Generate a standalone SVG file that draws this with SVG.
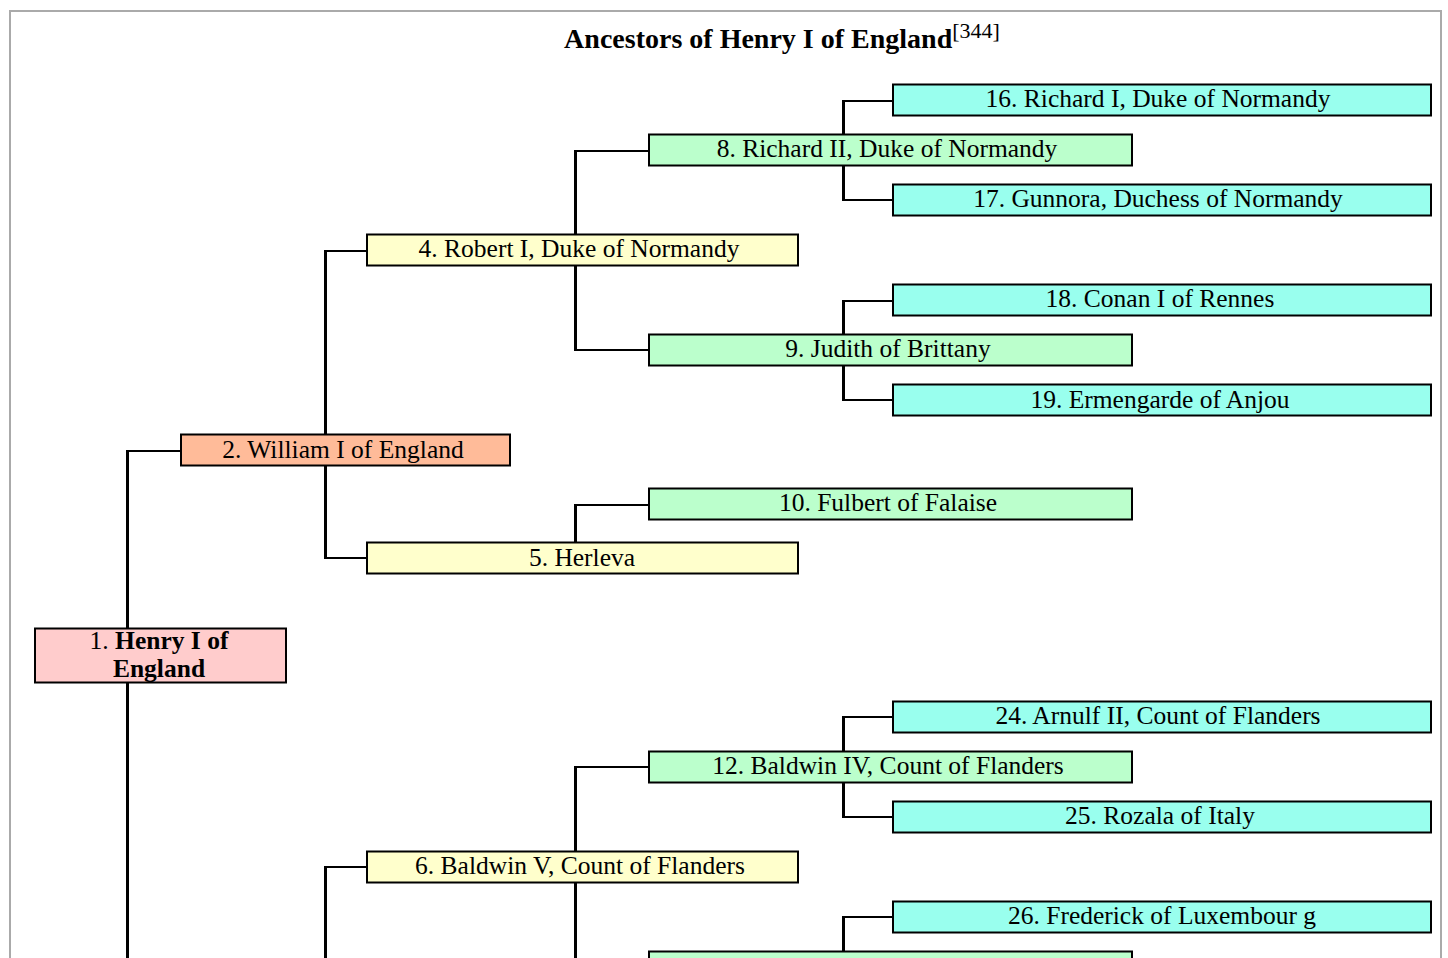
<svg xmlns="http://www.w3.org/2000/svg" width="1448" height="958" viewBox="0 0 1448 958">
<style>
text{font-family:"Liberation Serif","Times New Roman",serif;font-size:25.5px;fill:#000;text-anchor:middle}
.b{stroke:#000;stroke-width:2}
.l1{fill:#fcc}.l2{fill:#fb9}.l3{fill:#ffc}.l4{fill:#bfc}.l5{fill:#9fe}
.v{stroke:#000;stroke-width:3;fill:none}
.h{stroke:#000;stroke-width:2;fill:none}
</style>
<rect x="0" y="0" width="1448" height="958" fill="#fff"/>
<rect x="10" y="11" width="1431" height="960" fill="#fff" stroke="#aaa" stroke-width="2"/>
<text x="782" y="48" style="font-weight:bold;font-size:28px"><tspan>Ancestors of Henry I of England</tspan><tspan style="font-weight:normal;font-size:22px" dy="-10">[344]</tspan></text>
<g id="connectors">
<path class="v" d="M843.5 100V134M843.5 166V200M843.5 300V334M843.5 366V400M843.5 717V751M843.5 783V817M843.5 917V951"/>
<path class="h" d="M842 101H893M842 200H893M842 301H893M842 400H893M842 717H893M842 817H893M842 917H893"/>
<path class="v" d="M575.5 150V234M575.5 266V350M575.5 504V542M575.5 767V851M575.5 883V960"/>
<path class="h" d="M574 151H649M574 350H649M574 505H649M574 767H649"/>
<path class="v" d="M325.5 250V434M325.5 466V558M325.5 867V960"/>
<path class="h" d="M324 251H367M324 558H367M324 867H367"/>
<path class="v" d="M127.5 450V628M127.5 683V960"/>
<path class="h" d="M126 451H181"/>
</g>
<g id="n1"><rect class="b l1" x="35" y="628.5" width="251" height="54"/><text x="159" y="649">1. <tspan font-weight="bold">Henry I of</tspan></text><text x="159" y="677" font-weight="bold">England</text></g>
<g id="n2"><rect class="b l2" x="181" y="434.5" width="329" height="31"/><text x="343" y="458">2. William I of England</text></g>
<g id="n4"><rect class="b l3" x="367" y="234.5" width="431" height="31"/><text x="579" y="257">4. Robert I, Duke of Normandy</text></g>
<g id="n5"><rect class="b l3" x="367" y="542.5" width="431" height="31"/><text x="582" y="566">5. Herleva</text></g>
<g id="n6"><rect class="b l3" x="367" y="851.5" width="431" height="31"/><text x="580" y="874">6. Baldwin V, Count of Flanders</text></g>
<g id="n8"><rect class="b l4" x="649" y="134.5" width="483" height="31"/><text x="887" y="157">8. Richard II, Duke of Normandy</text></g>
<g id="n9"><rect class="b l4" x="649" y="334.5" width="483" height="31"/><text x="888" y="357">9. Judith of Brittany</text></g>
<g id="n10"><rect class="b l4" x="649" y="488.5" width="483" height="31"/><text x="888" y="511">10. Fulbert of Falaise</text></g>
<g id="n12"><rect class="b l4" x="649" y="751.5" width="483" height="31"/><text x="888" y="774">12. Baldwin IV, Count of Flanders</text></g>
<g id="n13"><rect class="b l4" x="649" y="951.5" width="483" height="31"/></g>
<g id="n16"><rect class="b l5" x="893" y="84.5" width="538" height="31"/><text x="1158" y="107">16. Richard I, Duke of Normandy</text></g>
<g id="n17"><rect class="b l5" x="893" y="184.5" width="538" height="31"/><text x="1158" y="207">17. Gunnora, Duchess of Normandy</text></g>
<g id="n18"><rect class="b l5" x="893" y="284.5" width="538" height="31"/><text x="1160" y="307">18. Conan I of Rennes</text></g>
<g id="n19"><rect class="b l5" x="893" y="384.5" width="538" height="31"/><text x="1160" y="408">19. Ermengarde of Anjou</text></g>
<g id="n24"><rect class="b l5" x="893" y="701.5" width="538" height="31"/><text x="1158" y="724">24. Arnulf II, Count of Flanders</text></g>
<g id="n25"><rect class="b l5" x="893" y="801.5" width="538" height="31"/><text x="1160" y="824">25. Rozala of Italy</text></g>
<g id="n26"><rect class="b l5" x="893" y="901.5" width="538" height="31"/><text x="1162" y="924">26. Frederick of Luxembour g</text></g>
</svg>
